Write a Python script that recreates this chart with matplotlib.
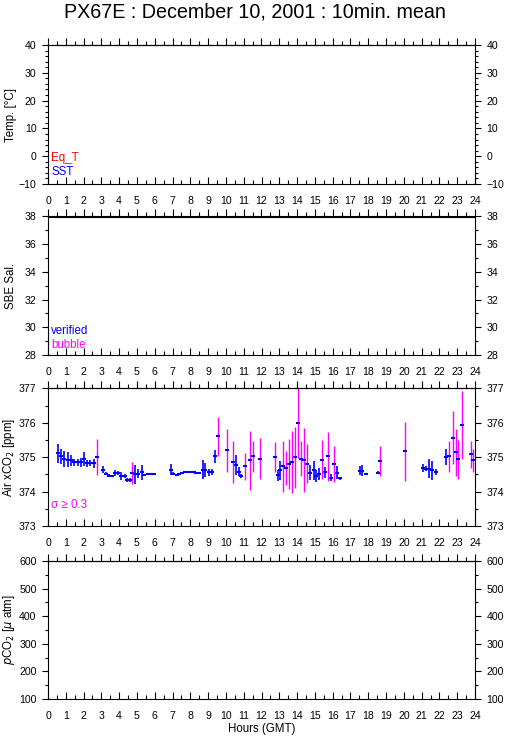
import matplotlib
matplotlib.use('Agg')
import matplotlib.pyplot as plt
from matplotlib.ticker import MultipleLocator

plt.rcParams['font.family'] = ['Liberation Sans', 'DejaVu Sans']

# ---------------- data ----------------
title = "PX67E : December 10, 2001 : 10min. mean"
hour_ticks = list(range(0, 25))

# Air xCO2, verified (sigma < 0.3): hours, value, error half-length
hours_v = [0.54, 0.73, 0.92, 1.10, 1.29, 1.48, 1.67, 1.86, 2.04, 2.19, 2.38, 2.57,
           3.08, 3.27, 3.45, 3.60, 3.79, 3.92, 4.10, 4.30, 4.45, 4.63, 4.90, 5.08,
           5.27, 5.42, 5.60, 5.80, 5.93, 6.90, 7.04, 7.24, 7.39, 7.54, 7.71, 7.86,
           8.01, 8.18, 8.33, 8.51, 8.70, 8.85, 9.04, 9.22, 9.40, 10.56, 10.71, 10.86,
           12.92, 13.05, 14.74, 14.93, 15.08, 15.25, 15.55, 15.91, 16.23, 16.40,
           17.54, 17.67, 17.85, 18.55, 21.05, 21.24, 21.43, 21.60, 21.78, 22.37]
co2_v = [375.11, 375.03, 374.94, 374.93, 374.91, 374.85, 374.85, 374.85, 374.95, 374.82, 374.83, 374.82,
         374.64, 374.52, 374.46, 374.45, 374.54, 374.54, 374.45, 374.45, 374.33, 374.33, 374.50, 374.52,
         374.56, 374.48, 374.52, 374.52, 374.52, 374.64, 374.52, 374.48, 374.52, 374.55, 374.56, 374.56,
         374.57, 374.57, 374.55, 374.54, 374.64, 374.62, 374.56, 374.58, 375.02, 374.76, 374.58, 374.45,
         374.47, 374.62, 374.55, 374.62, 374.45, 374.52, 374.56, 374.40, 374.55, 374.38,
         374.60, 374.60, 374.50, 374.55, 374.68, 374.67, 374.67, 374.62, 374.58, 375.01]
err_v = [0.28, 0.22, 0.24, 0.23, 0.16, 0.11, 0.10, 0.13, 0.20, 0.11, 0.10, 0.13,
         0.10, 0.05, 0.04, 0.03, 0.10, 0.06, 0.12, 0.05, 0.06, 0.05, 0.27, 0.13,
         0.22, 0.04, 0.03, 0.03, 0.03, 0.17, 0.05, 0.03, 0.03, 0.03, 0.02, 0.02,
         0.02, 0.02, 0.02, 0.03, 0.27, 0.20, 0.10, 0.09, 0.18, 0.29, 0.12, 0.05,
         0.16, 0.28, 0.22, 0.28, 0.17, 0.17, 0.16, 0.10, 0.18, 0.05,
         0.13, 0.16, 0.03, 0.04, 0.11, 0.08, 0.29, 0.28, 0.09, 0.24]

# Air xCO2, sigma >= 0.3
hours_s = [2.74, 4.73, 9.56, 10.07, 10.39, 11.07, 11.38, 11.55, 11.89, 12.75, 13.20, 13.39,
           13.54, 13.71, 13.88, 14.05, 14.23, 14.38, 14.55, 15.42, 15.74, 16.06, 18.68,
           20.08, 22.56, 22.75, 22.91, 23.06, 23.25, 23.76, 23.91]
co2_s = [375.00, 374.54, 375.60, 375.20, 374.86, 374.73, 374.91, 375.02, 374.96, 375.00, 374.73, 374.68,
         374.80, 374.87, 375.00, 375.99, 374.96, 374.91, 374.81, 374.93, 375.02, 374.79, 374.88,
         375.17, 375.03, 375.57, 375.14, 374.94, 375.93, 375.08, 374.91]
err_s = [0.52, 0.32, 0.57, 0.63, 0.60, 0.39, 0.85, 0.45, 0.60, 0.44, 0.74, 0.50,
         0.73, 0.90, 0.89, 1.01, 0.51, 0.93, 0.57, 0.57, 0.70, 0.52, 0.44,
         0.86, 0.45, 0.78, 0.68, 0.57, 0.98, 0.39, 0.33]

# panel settings: ylim, major, minor, label
ylims = [(-10, 40), (28, 38), (373, 377), (100, 600)]
ymajor = [10, 2, 1, 100]
yminor = [2, 1, 0.5, 50]
ylabels = ["Temp. [\u00b0C]", "SBE Sal.", "Air xCO$_2$ [ppm]", "$p$CO$_2$ [$\\mu$ atm]"]

# ---------------- figure ----------------
W, H = 509, 739
fig = plt.figure(figsize=(W / 100, H / 100), dpi=100)
blue = '#0000FF'
mag = '#FF00FF'
red = '#FF0000'

panels = [(45, 184), (216.5, 355), (388.3, 526), (561, 699)]
L, R = 48, 475
axes = []
for i, (top, bot) in enumerate(panels):
    ax = fig.add_axes([L / W, 1 - bot / H, (R - L) / W, (bot - top) / H])
    ax.set_xlim(0, 24)
    ax.set_ylim(*ylims[i])
    ax.xaxis.set_major_locator(MultipleLocator(1))
    ax.xaxis.set_minor_locator(MultipleLocator(0.5))
    ax.yaxis.set_major_locator(MultipleLocator(ymajor[i]))
    ax.yaxis.set_minor_locator(MultipleLocator(yminor[i]))
    ax.set_xticks(hour_ticks)
    ax.set_xticklabels([str(h) for h in hour_ticks])
    for s in ax.spines.values():
        s.set_linewidth(0.8)
        s.set_color('black')
    ax.tick_params(axis='x', which='both', direction='in', bottom=True, top=False,
                   labelsize=7.6, pad=8.5, width=0.8)
    ax.tick_params(axis='x', which='major', length=4.8)
    ax.tick_params(axis='x', which='minor', length=2.8)
    ax.tick_params(axis='y', which='both', direction='out', left=True, right=True,
                   labelleft=True, labelright=True, labelsize=7.6, width=0.8, pad=4)
    ax.tick_params(axis='y', which='major', length=4.3)
    ax.tick_params(axis='y', which='minor', length=2.4)
    sec = ax.secondary_xaxis('top')
    sec.xaxis.set_major_locator(MultipleLocator(1))
    sec.xaxis.set_minor_locator(MultipleLocator(0.5))
    sec.tick_params(axis='x', which='both', direction='out', labeltop=False, width=0.8)
    sec.tick_params(axis='x', which='major', length=4.8)
    sec.tick_params(axis='x', which='minor', length=2.8)
    sec.spines['top'].set_linewidth(0.8)
    ax.set_ylabel(ylabels[i], fontsize=8.3)
    ax.yaxis.set_label_coords(-0.073, 0.5)
    axes.append(ax)

# panel 1 legend text
axes[0].text(3 / 427, 0.19, "Eq_T", color=red, fontsize=8.3, transform=axes[0].transAxes,
             va='center', ha='left')
axes[0].text(3 / 427, 0.085, "SST", color=blue, fontsize=8.3, transform=axes[0].transAxes,
             va='center', ha='left')
# panel 2 legend text
axes[1].text(3 / 427, 0.17, "verified", color=blue, fontsize=8.3, transform=axes[1].transAxes,
             va='center', ha='left')
axes[1].text(3 / 427, 0.075, "bubble", color=mag, fontsize=8.3, transform=axes[1].transAxes,
             va='center', ha='left')

# panel 3 data
ax3 = axes[2]
ax3.errorbar(hours_s, co2_s, yerr=err_s, fmt='none', ecolor=mag, elinewidth=1.0,
             capsize=0, zorder=2)
ax3.errorbar(hours_v, co2_v, yerr=err_v, fmt='none', ecolor=blue, elinewidth=1.2,
             capsize=0, zorder=3)
ax3.plot(hours_v, co2_v, linestyle='none', marker='_', color=blue, ms=3.5, mew=1.5, zorder=4)
ax3.plot(hours_s, co2_s, linestyle='none', marker='_', color=blue, ms=3.5, mew=1.5, zorder=4)
ax3.text(3 / 427, 0.15, "\u03c3 \u2265 0.3", color=mag, fontsize=8.3, transform=ax3.transAxes,
         va='center', ha='left')

axes[3].set_xlabel("Hours (GMT)", fontsize=8.3, labelpad=1.5)

fig.text(0.5, 1 - 12 / H, title, ha='center', va='center', fontsize=14.2)

fig.savefig('out.png', dpi=100)
